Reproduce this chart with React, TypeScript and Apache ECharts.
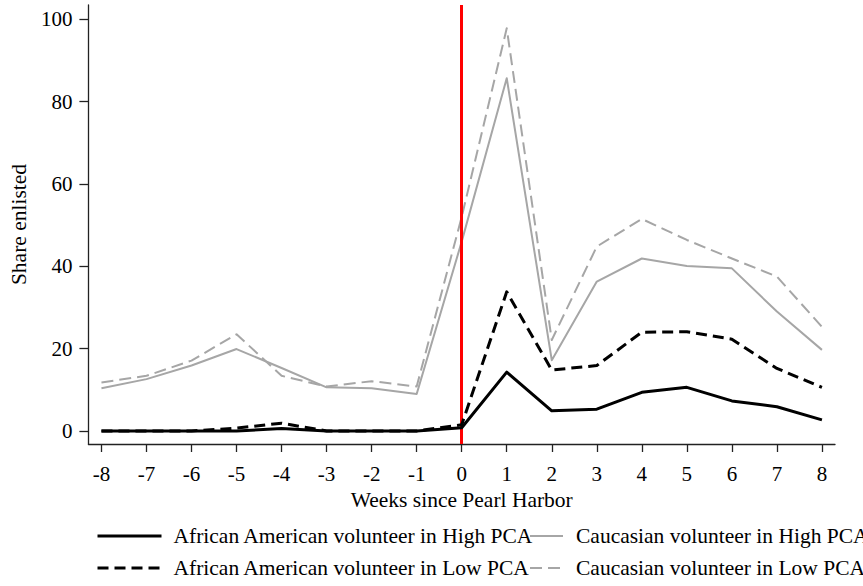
import React, { useEffect, useRef } from "react";
import * as echarts from "echarts";

// Weeks relative to the attack (x positions of every series)
const weeks = [-8, -7, -6, -5, -4, -3, -2, -1, 0, 1, 2, 3, 4, 5, 6, 7, 8];

// Share enlisted, by group
const aaHigh = [0, 0, 0, 0, 0.6, 0, 0, 0, 0.8, 14.3, 4.9, 5.3, 9.4, 10.6, 7.3, 5.9, 2.7];
const aaLow = [0, 0, 0, 0.7, 1.9, 0, 0, 0, 1.5, 33.8, 14.8, 15.9, 24.0, 24.1, 22.3, 15.2, 10.6];
const cauHigh = [10.4, 12.6, 15.9, 19.9, 15.3, 10.6, 10.4, 9.0, 46.0, 85.7, 17.2, 36.3, 41.9, 40.1, 39.5, 29.0, 19.7];
const cauLow = [11.8, 13.4, 17.1, 23.5, 13.4, 10.8, 12.1, 10.8, 52.0, 97.8, 22.1, 44.8, 51.5, 46.4, 41.9, 37.5, 25.3];

const xTicks = [-8, -7, -6, -5, -4, -3, -2, -1, 0, 1, 2, 3, 4, 5, 6, 7, 8];
const yTicks = [0, 20, 40, 60, 80, 100];

const eventWeek = 0;

const names = {
  aaHigh: "African American volunteer in High PCA",
  aaLow: "African American volunteer in Low PCA",
  cauHigh: "Caucasian volunteer in High PCA",
  cauLow: "Caucasian volunteer in Low PCA",
};

const FONT = "Liberation Serif";
const GRAY = "#a6a6a6";

const pairs = (ys: number[]) => weeks.map((w, i) => [w, ys[i]]);

export default function App() {
  const ref = useRef<HTMLDivElement>(null);

  useEffect(() => {
    if (!ref.current) return;
    const chart = echarts.init(ref.current, undefined, { renderer: "svg" });

    const lineSeries = (name: string, ys: number[], color: string, width: number, type: any, z: number) => ({
      name,
      type: "line",
      data: pairs(ys),
      symbol: "none",
      showSymbol: false,
      z,
      lineStyle: { color, width, type, cap: "butt", join: "round" },
      itemStyle: { color },
    });

    const legendText = (padLeft: number) => ({
      fontFamily: FONT,
      fontSize: 21.5,
      color: "#000",
      padding: [7, 0, 0, padLeft],
    });

    chart.setOption({
      animation: false,
      backgroundColor: "#fff",
      textStyle: { fontFamily: FONT },
      grid: { left: 79, right: 28, top: 5, bottom: 142, containLabel: false },
      xAxis: {
        type: "value",
        min: -8.29,
        max: 8.29,
        name: "Weeks since Pearl Harbor",
        nameLocation: "middle",
        nameGap: 35,
        nameTextStyle: { fontFamily: FONT, fontSize: 21.5, color: "#000" },
        axisLine: { show: true, onZero: false, lineStyle: { color: "#222", width: 1.3 } },
        axisTick: { show: true, length: 8, customValues: xTicks, lineStyle: { color: "#222", width: 1.3 } },
        axisLabel: {
          customValues: xTicks,
          fontFamily: FONT,
          fontSize: 21,
          color: "#000",
          margin: 19,
        },
        splitLine: { show: false },
      },
      yAxis: {
        type: "value",
        min: -3.16,
        max: 103.47,
        name: "Share enlisted",
        nameLocation: "middle",
        nameGap: 44,
        nameTextStyle: { fontFamily: FONT, fontSize: 21.5, color: "#000" },
        axisLine: { show: true, onZero: false, lineStyle: { color: "#222", width: 1.3 } },
        axisTick: { show: true, length: 9, customValues: yTicks, lineStyle: { color: "#222", width: 1.3 } },
        axisLabel: {
          customValues: yTicks,
          fontFamily: FONT,
          fontSize: 21,
          color: "#000",
          margin: 16,
        },
        splitLine: { show: false },
      },
      legend: [
        {
          data: [names.aaHigh, names.aaLow],
          orient: "vertical",
          left: 96,
          top: 525,
          itemWidth: 64,
          itemHeight: 14,
          itemGap: 10,
          padding: 0,
          lineStyle: { width: 3 },
          itemStyle: { opacity: 0 },
          textStyle: legendText(7),
          selectedMode: false,
        },
        {
          data: [names.cauHigh, names.cauLow],
          orient: "vertical",
          left: 529,
          top: 525,
          itemWidth: 33,
          itemHeight: 14,
          itemGap: 10,
          padding: 0,
          lineStyle: { width: 2 },
          itemStyle: { opacity: 0 },
          textStyle: legendText(8),
          selectedMode: false,
        },
      ],
      series: [
        {
          type: "line",
          data: [],
          silent: true,
          z: 1,
          markLine: {
            silent: true,
            symbol: "none",
            label: { show: false },
            lineStyle: { color: "#ff0000", width: 3, type: "solid" },
            data: [{ xAxis: eventWeek }],
          },
        },
        lineSeries(names.aaHigh, aaHigh, "#000", 3, "solid", 5),
        lineSeries(names.aaLow, aaLow, "#000", 3, [11, 6], 5),
        lineSeries(names.cauHigh, cauHigh, GRAY, 2, "solid", 3),
        lineSeries(names.cauLow, cauLow, GRAY, 2, [12, 6], 3),
      ],
    });

    return () => chart.dispose();
  }, []);

  return (
    <div
      ref={ref}
      style={{ position: "fixed", left: 0, top: 0, width: 863, height: 586, background: "#fff" }}
    />
  );
}
